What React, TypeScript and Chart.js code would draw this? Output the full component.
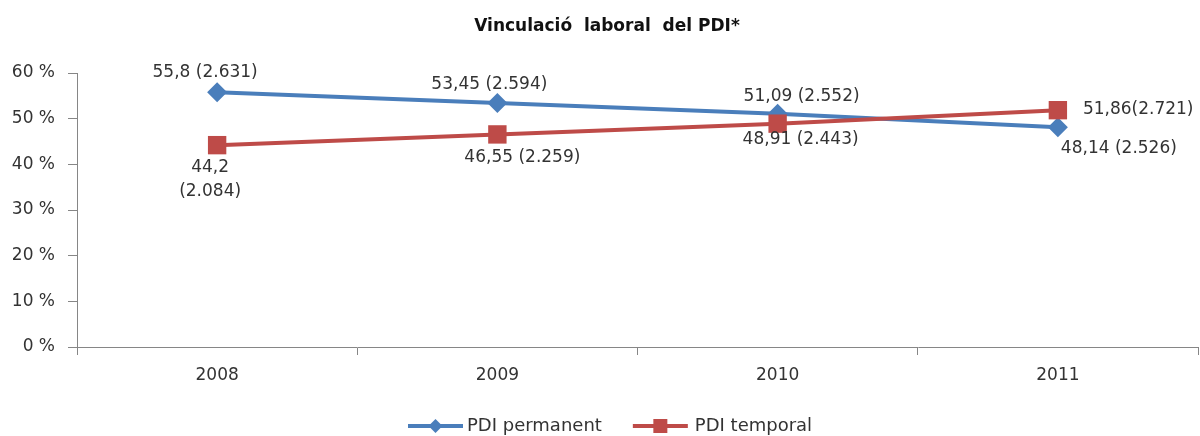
import React, { useEffect, useRef } from "react";
import { Chart, registerables, LineController } from "chart.js";

Chart.register(...registerables);

// keep the large end markers from widening the layout padding
(LineController.prototype as any).getMaxOverflow = function () {
  return 0;
};

const titleText = "Vinculació  laboral  del PDI*";
const years = ["2008", "2009", "2010", "2011"];
const permanentName = "PDI permanent";
const temporalName = "PDI temporal";
const permanentValues = [55.8, 53.45, 51.09, 48.14];
const temporalValues = [44.2, 46.55, 48.91, 51.86];
const permanentLabels = [["55,8 (2.631)"], ["53,45 (2.594)"], ["51,09 (2.552)"], ["48,14 (2.526)"]];
const temporalLabels = [["44,2", "(2.084)"], ["46,55 (2.259)"], ["48,91 (2.443)"], ["51,86(2.721)"]];
const yTicks = [0, 10, 20, 30, 40, 50, 60];

const BLUE = "#4A7EBB";
const RED = "#BE4B48";
const FONT = "'DejaVu Sans', sans-serif";
const TEXT = "#333333";
const AXIS = "#868686";

// label placement relative to each point: [dx, dy, align]
const permanentPlacement: [number, number, CanvasTextAlign][] = [
  [-12, -20, "center"],
  [-8, -18, "center"],
  [24, -17, "center"],
  [61, 21, "center"],
];
const temporalPlacement: [number, number, CanvasTextAlign][] = [
  [-7, 22, "center"],
  [25, 23, "center"],
  [23, 16, "center"],
  [25, -1, "left"],
];

const labelPlugin = {
  id: "pointLabels",
  afterDatasetsDraw(chart: any) {
    const ctx = chart.ctx;
    const sets = [
      { idx: 0, labels: permanentLabels, place: permanentPlacement },
      { idx: 1, labels: temporalLabels, place: temporalPlacement },
    ];
    ctx.save();
    ctx.font = `17px ${FONT}`;
    ctx.fillStyle = TEXT;
    ctx.textBaseline = "middle";
    for (const s of sets) {
      const meta = chart.getDatasetMeta(s.idx);
      meta.data.forEach((pt: any, i: number) => {
        const [dx, dy, align] = s.place[i];
        ctx.textAlign = align;
        s.labels[i].forEach((line: string, li: number) => {
          ctx.fillText(line, pt.x + dx, pt.y + dy + li * 24);
        });
      });
    }
    ctx.restore();
  },
  afterDraw(chart: any) {
    const ctx = chart.ctx;
    ctx.save();
    // title
    ctx.font = `bold 17px ${FONT}`;
    ctx.fillStyle = "#111111";
    ctx.textAlign = "center";
    ctx.textBaseline = "middle";
    ctx.fillText(titleText, 607, 27);

    // legend
    ctx.font = `18px ${FONT}`;
    const lineLen = 55;
    const w1 = ctx.measureText(permanentName).width;
    const w2 = ctx.measureText(temporalName).width;
    let x = 408;
    const y = 426;
    const drawItem = (color: string, name: string, w: number, shape: string, gap: number) => {
      ctx.strokeStyle = color;
      ctx.lineWidth = 4;
      ctx.beginPath();
      ctx.moveTo(x, y);
      ctx.lineTo(x + lineLen, y);
      ctx.stroke();
      const cx = x + lineLen / 2;
      ctx.fillStyle = color;
      ctx.beginPath();
      if (shape === "diamond") {
        ctx.moveTo(cx - 7, y);
        ctx.lineTo(cx, y - 7);
        ctx.lineTo(cx + 7, y);
        ctx.lineTo(cx, y + 7);
        ctx.closePath();
      } else {
        ctx.rect(cx - 7, y - 7, 14, 14);
      }
      ctx.fill();
      ctx.fillStyle = TEXT;
      ctx.textAlign = "left";
      ctx.fillText(name, x + lineLen + gap, y);
      x += lineLen + gap + w + 31;
    };
    drawItem(BLUE, permanentName, w1, "diamond", 4);
    drawItem(RED, temporalName, w2, "square", 7);
    ctx.restore();
  },
};

export default function App() {
  const ref = useRef<HTMLCanvasElement | null>(null);
  useEffect(() => {
    if (!ref.current) return;
    const chart = new Chart(ref.current, {
      type: "line",
      data: {
        labels: years,
        datasets: [
          {
            label: permanentName,
            data: permanentValues,
            borderColor: BLUE,
            backgroundColor: BLUE,
            borderWidth: 4,
            pointStyle: "rectRot",
            pointRadius: 10,
            pointBorderWidth: 0,
            tension: 0,
            order: 1,
            clip: false,
          },
          {
            label: temporalName,
            data: temporalValues,
            borderColor: RED,
            backgroundColor: RED,
            borderWidth: 4,
            pointStyle: "rect",
            pointRadius: 13,
            pointBorderWidth: 0,
            tension: 0,
            order: 0,
            clip: false,
          },
        ],
      },
      options: {
        responsive: false,
        animation: false,
        layout: { padding: { top: 73, right: 2, left: 0, bottom: 0 } },
        plugins: {
          legend: { display: false },
          title: { display: false },
          tooltip: { enabled: false },
        },
        scales: {
          x: {
            offset: true,
            grid: {
              display: true,
              offset: true,
              drawOnChartArea: false,
              drawTicks: true,
              tickLength: 8,
              color: AXIS,
            },
            border: { display: true, color: AXIS, width: 1 },
            ticks: {
              color: TEXT,
              font: { family: FONT, size: 17 },
              padding: 10,
              maxRotation: 0,
            },
            afterFit: (scale: any) => {
              scale.height = 89;
              scale.paddingLeft = 0;
              scale.paddingRight = 0;
            },
          },
          y: {
            min: 0,
            max: 60,
            afterBuildTicks: (scale: any) => {
              scale.ticks = yTicks.map((v) => ({ value: v }));
            },
            grid: {
              display: true,
              drawOnChartArea: false,
              drawTicks: true,
              tickLength: 9,
              color: AXIS,
            },
            border: { display: true, color: AXIS, width: 1 },
            ticks: {
              color: TEXT,
              font: { family: FONT, size: 17 },
              padding: 13,
              callback: (v: any) => `${v} %`,
            },
            afterFit: (scale: any) => {
              scale.width = 77;
            },
          },
        },
      },
      plugins: [labelPlugin],
    });
    return () => chart.destroy();
  }, []);
  return (
    <div style={{ position: "absolute", left: 0, top: 0, width: 1200, height: 436, background: "#fff" }}>
      <canvas ref={ref} width={1200} height={436} style={{ display: "block" }} />
    </div>
  );
}
